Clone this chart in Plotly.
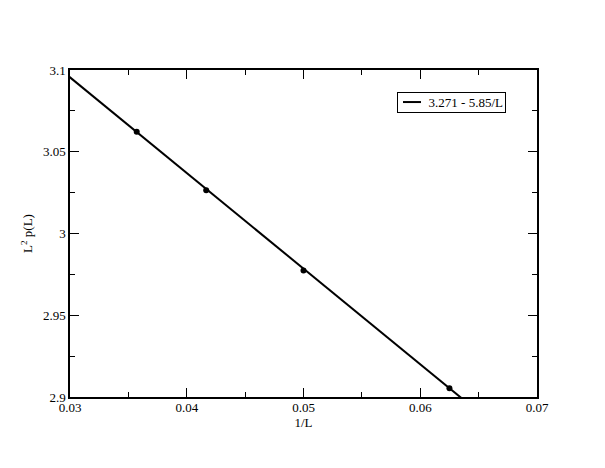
import plotly.graph_objects as go

# data points: 1/L and L^2 p(L)
inv_L = [1/28, 1/24, 1/20, 1/16]
L2pL = [3.0623, 3.0264, 2.9773, 2.9053]

# fit line
fit_intercept = 3.271
fit_slope = -5.85
fit_label = "3.271 - 5.85/L"
fit_x = [0.0, 0.07]
fit_y = [fit_intercept + fit_slope * x for x in fit_x]

# tick labels
x_tickvals = [0.03, 0.04, 0.05, 0.06, 0.07]
x_ticktext = ["0.03", "0.04", "0.05", "0.06", "0.07"]
y_tickvals = [2.9, 2.95, 3.0, 3.05, 3.1]
y_ticktext = ["2.9", "2.95", "3", "3.05", "3.1"]

font_family = "Liberation Serif, Times New Roman, serif"
fsize = 13

fig = go.Figure()
fig.add_trace(go.Scatter(
    x=fit_x, y=fit_y, mode="lines",
    line=dict(color="black", width=2),
    name=fit_label, showlegend=False,
))
fig.add_trace(go.Scatter(
    x=inv_L, y=L2pL, mode="markers",
    marker=dict(color="black", size=6),
    showlegend=False,
))

axis_common = dict(
    showgrid=False, zeroline=False, automargin=False,
    showline=True, linecolor="black", linewidth=1.5, mirror="ticks",
    ticks="inside", ticklen=9, tickwidth=1.2, tickcolor="black",
    tickfont=dict(family=font_family, size=fsize, color="black"),
)

# legend box (drawn as annotation + sample line)
fig.add_annotation(
    xref="paper", yref="paper", x=0.7002, y=0.9327,
    xanchor="left", yanchor="top",
    text=fit_label, showarrow=False, align="right", width=103,
    font=dict(family=font_family, size=fsize, color="black"),
    bordercolor="black", borderwidth=1, borderpad=2, bgcolor="rgba(0,0,0,0)",
)
fig.add_shape(
    type="line", xref="paper", yref="paper", layer="above",
    x0=0.713, x1=0.7516, y0=0.902, y1=0.902,
    line=dict(color="black", width=2),
)

fig.update_layout(
    width=605, height=468,
    margin=dict(l=62, r=76, t=62, b=79),
    paper_bgcolor="white", plot_bgcolor="white",
    font=dict(family=font_family, size=fsize, color="black"),
    showlegend=False,
    xaxis=dict(
        range=[0.03, 0.07], tickmode="array", tickvals=x_tickvals, ticktext=x_ticktext,
        minor=dict(dtick=0.005, tick0=0.03, ticks="inside", ticklen=5, tickcolor="black", tickwidth=1.2),
        title=dict(text="1/L", font=dict(family=font_family, size=fsize), standoff=0),
        ticklabelstandoff=-2,
        **axis_common,
    ),
    yaxis=dict(
        range=[2.9, 3.1], tickmode="array", tickvals=y_tickvals, ticktext=y_ticktext,
        minor=dict(dtick=0.025, tick0=2.9, ticks="inside", ticklen=5, tickcolor="black", tickwidth=1.2),
        title=dict(text="L<sup>2</sup> p(L)", font=dict(family=font_family, size=fsize), standoff=7),
        **axis_common,
    ),
)

fig.write_html("out.html")
